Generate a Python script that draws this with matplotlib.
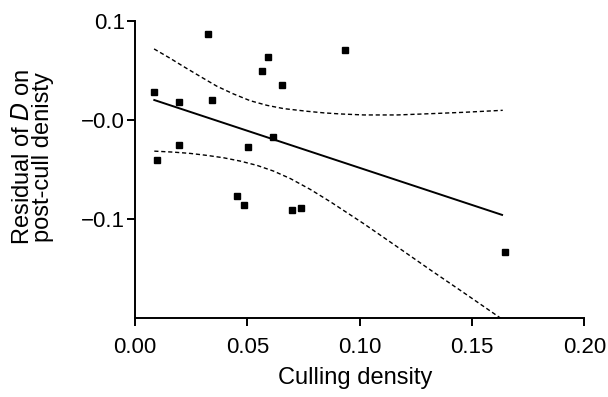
import numpy as np
import matplotlib.pyplot as plt

plt.rcParams['font.family'] = ['Liberation Sans', 'DejaVu Sans']

# culling density vs residual of D on post-cull density
cull = [0.0085, 0.0098, 0.0196, 0.0196, 0.0326, 0.0344, 0.0504, 0.0567, 0.0594,
        0.0656, 0.0616, 0.0455, 0.0487, 0.0701, 0.0741, 0.0933, 0.1647]
resid = [0.029, -0.040, 0.018, -0.025, 0.087, 0.021, -0.027, 0.050, 0.064,
         0.036, -0.017, -0.077, -0.086, -0.091, -0.089, 0.071, -0.133]

# regression line
fit_x = [0.0086, 0.1634]
fit_y = [0.0205, -0.0957]

# 95% confidence band
upper_x = [0.0085, 0.0156, 0.0216, 0.0290, 0.0365, 0.0439, 0.0513, 0.0588, 0.0662,
           0.0767, 0.0841, 0.0915, 0.1019, 0.1168, 0.1317, 0.1466, 0.1637]
upper_y = [0.0722, 0.0628, 0.0544, 0.0444, 0.0344, 0.0266, 0.0198, 0.0151, 0.0118,
           0.0091, 0.0075, 0.0064, 0.0054, 0.0054, 0.0067, 0.0081, 0.0101]
lower_x = [0.0086, 0.0171, 0.0246, 0.0320, 0.0394, 0.0469, 0.0543, 0.0617, 0.0692,
           0.0781, 0.0871, 0.1019, 0.1168, 0.1317, 0.1466, 0.1610, 0.1634]
lower_y = [-0.0312, -0.0322, -0.0335, -0.0355, -0.0379, -0.0413, -0.0456, -0.0514,
           -0.0590, -0.0700, -0.0826, -0.1047, -0.1281, -0.1517, -0.1748, -0.1974,
           -0.2012]

xticks = [0.00, 0.05, 0.10, 0.15, 0.20]
xticklabels = ["0.00", "0.05", "0.10", "0.15", "0.20"]
yticks = [0.1, 0.0, -0.1]
yticklabels = ["0.1", "\u22120.0", "\u22120.1"]

fig = plt.figure(figsize=(6.08, 3.97), dpi=100)
ax = fig.add_axes([0.222, 0.199, 0.739, 0.747])

ax.plot(fit_x, fit_y, color="black", lw=1.4)
ax.plot(upper_x, upper_y, color="black", lw=1.0, ls=(0, (3, 2)))
ax.plot(lower_x, lower_y, color="black", lw=1.0, ls=(0, (3, 2)))
ax.plot(cull, resid, "s", color="black", ms=5, clip_on=False)

ax.set_xlim(0, 0.2)
ax.set_ylim(-0.2, 0.1)
ax.set_xticks(xticks)
ax.set_xticklabels(xticklabels)
ax.set_yticks(yticks)
ax.set_yticklabels(yticklabels)

for side in ["top", "right"]:
    ax.spines[side].set_visible(False)
for side in ["left", "bottom"]:
    ax.spines[side].set_linewidth(1.4)
ax.tick_params(direction="out", length=6, width=1.4, labelsize=16)
ax.tick_params(axis="x", pad=8)
ax.tick_params(axis="y", pad=1)

ax.set_xlabel("Culling density", fontsize=17)
ax.xaxis.set_label_coords(0.49, -0.165)
fig.text(0.054, 0.605, "Residual of $\\it{D}$ on\npost-cull denisty", fontsize=17,
         rotation=90, ha="center", va="center", multialignment="center",
         linespacing=0.85)

fig.savefig("out.png", dpi=100)
